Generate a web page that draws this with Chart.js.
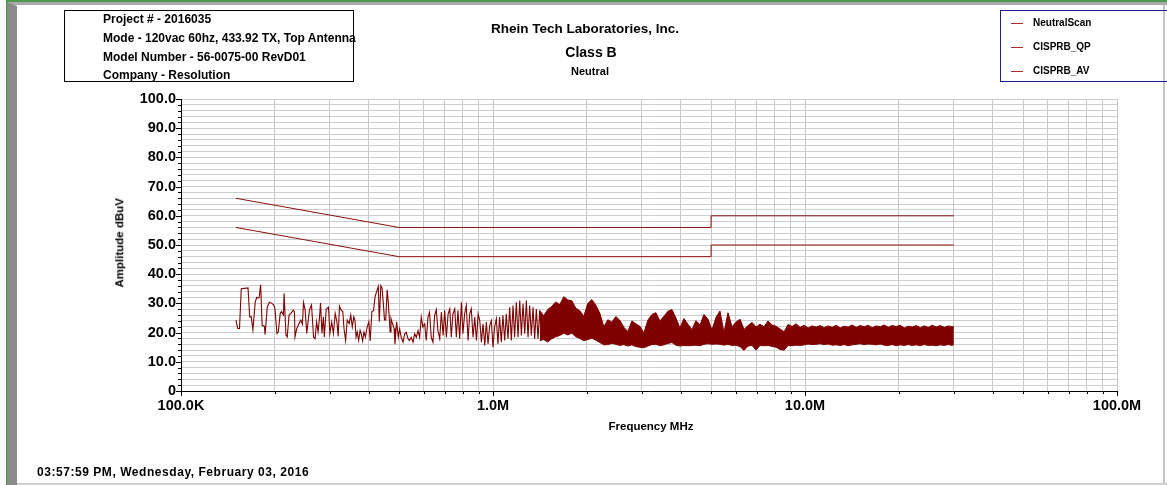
<!DOCTYPE html>
<html>
<head>
<meta charset="utf-8">
<script src="https://cdn.jsdelivr.net/npm/chart.js"></script>
<style>
  html, body { margin:0; padding:0; }
  body { width:1167px; height:485px; position:relative; overflow:hidden; background:#fff;
         font-family:'Liberation Sans', Arial, sans-serif; font-weight:bold; color:#000; }
  .t { position:absolute; white-space:nowrap; }
  canvas { position:absolute; left:0; top:0; }
</style>
</head>
<body>
<script>
// ---------- data ----------
const scanFreq = [
 0.150,0.152,0.154,0.156,0.164,0.166,0.168,0.170,0.173,0.175,0.177,0.178,0.180,0.182,0.185,0.186,
 0.189,0.192,0.195,0.198,0.200,0.203,0.205,0.208,0.210,0.213,0.214,0.217,0.219,0.222,0.225,0.229,
 0.231,0.232,0.235,0.239,0.242,0.245,0.247,0.250,0.253,0.255,0.258,0.262,0.266,0.269,0.272,0.275,
 0.278,0.280,0.283,0.286,0.288,0.292,0.297,0.300,0.304,0.308,0.312,0.316,0.319,0.322,0.326,0.330,
 0.333,0.337,0.341,0.346,0.350,0.354,0.358,0.361,0.364,0.367,0.371,0.375,0.378,0.382,0.386,0.390,
 0.394,0.400,0.404,0.409,0.414,0.419,0.424,0.429,0.432,0.437,0.441,0.445,0.449,0.453,0.458,0.462,
 0.468,0.471,0.476,0.482,0.485,0.491,0.497,0.502,
 0.508,0.515,0.521,0.527,0.534,0.540,0.547,0.554,0.561,0.568,0.575,0.582,0.589,0.596,0.604,0.611,
 0.619,0.626,0.634,0.642,0.650,0.658,0.666,0.675,0.683,0.692,0.700,0.709,0.718,0.727,0.735,0.744,
 0.754,0.763,0.772,0.782,0.792,0.801,0.811,0.821,0.832,0.842,0.852,0.863,0.874,0.885,0.896,0.907,
 0.918,0.929,0.941,0.952,0.964,0.976,0.988,1.000,1.012,1.025,1.037,1.050,1.063,1.076,1.090,1.103,
 1.117,1.131,1.145,1.159,1.173,1.188,1.203,1.218,1.233,1.248,1.264,1.279,1.295,1.311,1.327,1.344,
 1.360,1.377,1.394,1.412,1.429
];
const scanLevel = [
 24.3,21.4,21.4,35.0,35.3,25.4,25.4,21.0,30.6,32.1,31.8,32.0,36.4,22.5,22.2,19.3,
 28.7,30.4,30.1,29.5,28.3,19.7,20.2,26.6,27.2,26.0,33.5,19.1,18.5,26.0,26.6,27.7,
 27.2,18.5,21.4,23.1,24.3,22.9,30.3,27.7,19.7,23.1,27.7,29.5,18.5,17.9,23.7,20.2,
 25.4,30.1,19.7,25.4,18.5,28.0,28.7,19.7,23.7,19.7,26.6,23.7,18.7,29.1,27.7,27.2,
 21.4,17.3,24.3,23.1,26.0,22.0,25.4,24.3,18.5,20.2,17.3,20.8,19.7,17.1,20.2,18.5,
 21.4,23.7,17.1,27.2,27.5,32.4,34.1,35.8,23.7,36.1,35.3,30.1,24.3,24.3,34.7,30.1,
 20.2,24.9,23.1,21.4,16.0,23.7,18.5,21.3,
 18.4,16.7,19.6,20.1,17.9,17.3,18.4,16.7,19.6,18.4,20.7,18.4,25.3,21.9,23.0,17.3,
 25.3,27.0,18.4,16.7,25.9,27.8,20.7,17.9,27.0,19.0,27.6,18.4,26.4,28.1,18.4,26.4,
 28.1,18.4,27.6,17.9,30.4,19.6,26.4,29.3,17.3,26.4,28.1,18.4,25.3,17.3,26.4,24.1,
 16.7,23.0,15.6,23.6,16.1,22.4,24.1,15.0,21.9,24.7,16.1,25.3,16.7,25.9,17.3,26.4,
 17.9,28.7,17.3,29.3,18.4,30.4,18.4,31.0,19.0,29.9,19.6,31.0,18.4,29.3,19.0,28.7,
 17.9,28.1,17.9,27.6,17.3
];
// dense part of the scan: upper and lower edge of the trace band
const bandFreq = [
 1.412,1.454,1.498,1.543,1.589,1.637,1.686,1.737,1.789,1.842,1.898,1.954,2.013,2.074,2.136,2.200,
 2.266,2.334,2.404,2.476,2.550,2.627,2.706,2.787,2.870,2.956,3.045,3.137,3.231,3.328,3.427,3.530,
 3.636,3.745,3.858,3.973,4.092,4.215,4.342,4.472,4.606,4.744,4.887,5.033,5.184,5.340,5.500,5.665,
 5.835,6.010,6.190,6.376,6.567,6.764,6.967,7.176,7.391,7.613,7.841,8.077,8.319,8.569,8.826,9.091,
 9.363,9.644,9.933,10.23,10.54,10.86,11.18,11.51,11.86,12.22,12.58,12.96,13.35,13.75,14.16,14.59,
 15.02,15.48,15.94,16.42,16.91,17.42,17.94,18.48,19.03,19.60,20.19,20.80,21.42,22.07,22.73,23.41,
 24.11,24.84,25.58,26.35,27.14,27.95,28.79,29.66,30.0
];
const bandHigh = [
 27.6,25.8,27.9,29.0,30.5,29.6,32.3,31.2,30.9,28.4,27.5,25.6,30.0,31.3,29.4,26.6,
 22.0,24.4,23.6,25.5,24.2,21.8,20.4,24.0,23.0,22.2,19.9,24.3,26.2,26.8,24.0,25.6,
 27.3,27.9,25.0,21.6,24.8,22.9,21.0,24.1,22.6,26.2,24.6,20.9,25.2,27.4,20.0,26.8,
 22.0,23.6,24.6,21.1,22.4,23.5,21.9,22.9,22.0,24.0,22.6,22.2,21.2,20.3,22.8,22.1,
 23.0,21.8,22.5,21.6,22.3,21.9,22.4,21.7,22.3,21.8,22.5,21.6,22.2,21.9,22.6,21.8,
 22.4,22.0,22.5,21.7,22.3,22.0,22.6,21.8,22.4,22.1,22.5,21.6,22.2,21.9,22.4,21.7,
 22.3,21.8,22.5,21.9,22.4,21.8,22.3,22.0,22.1
];
const bandLow = [
 17.3,17.6,16.8,17.9,18.6,19.0,19.8,19.2,19.8,18.6,18.0,17.2,17.6,18.1,17.4,16.6,
 15.8,15.9,16.3,16.0,15.6,15.9,15.4,15.8,15.2,15.0,14.8,15.4,15.9,16.0,15.5,15.8,
 16.3,16.6,15.7,15.4,15.6,15.5,15.6,15.7,15.5,16.0,16.2,16.0,16.1,16.0,15.7,16.0,
 15.6,15.7,15.2,13.9,15.4,15.6,14.0,15.6,15.5,15.6,15.3,15.0,14.2,14.0,15.6,15.5,
 15.7,15.6,15.8,16.1,15.9,16.0,16.2,15.9,16.1,15.7,15.8,15.6,15.9,15.5,15.8,16.0,
 16.2,15.9,16.1,16.0,15.8,16.1,15.7,15.6,15.9,15.5,15.8,15.6,15.9,15.6,15.8,15.5,
 15.9,15.6,15.7,15.5,15.8,15.6,15.9,15.6,16.1
];
const qpFreq  = [0.15, 0.5, 5, 5, 30];
const qpLevel = [66, 56, 56, 60, 60];
const avFreq  = [0.15, 0.5, 5, 5, 30];
const avLevel = [56, 46, 46, 50, 50];

const xTickValues = [0.1,0.2,0.3,0.4,0.5,0.6,0.7,0.8,0.9,1,2,3,4,5,6,7,8,9,10,20,30,40,50,60,70,80,90,100];
const xMajorValues = [0.1, 1, 10, 100];
const xMajorLabels = ['100.0K', '1.0M', '10.0M', '100.0M'];
const yMajorValues = [0,10,20,30,40,50,60,70,80,90,100];
const yMajorLabels = ['0','10.0','20.0','30.0','40.0','50.0','60.0','70.0','80.0','90.0','100.0'];

const legendNames = ['NeutralScan', 'CISPRB_QP', 'CISPRB_AV'];
const infoLines = ['Project # - 2016035', 'Mode - 120vac 60hz, 433.92 TX, Top Antenna',
                   'Model Number - 56-0075-00 RevD01', 'Company - Resolution'];
</script>

<!-- page frame -->
<div style="position:absolute;left:6px;top:0;width:1161px;height:2px;background:#4f9a4f"></div>
<div style="position:absolute;left:6px;top:2px;width:1161px;height:3px;background:#a9a9a9"></div>
<div style="position:absolute;left:6px;top:0;width:1px;height:485px;background:#3d9a3d"></div>
<div style="position:absolute;left:7px;top:2px;width:10px;height:483px;background:#8a8a8a;clip-path:polygon(0 0,100% 4px,100% 100%,0 100%)"></div>
<div style="position:absolute;left:1163px;top:5px;width:2px;height:480px;background:#c4c4c4"></div>
<div style="position:absolute;left:17px;top:483px;width:1150px;height:2px;background:#cfcfcf"></div>

<canvas id="c" width="1167" height="485"></canvas>

<!-- info box -->
<div style="position:absolute;left:64px;top:10px;width:288px;height:70px;border:1px solid #000"></div>
<div id="info"></div>

<!-- titles -->
<div class="t" style="left:485px;width:200px;text-align:center;top:22px;font-size:13.5px;line-height:13.5px">Rhein Tech Laboratories, Inc.</div>
<div class="t" style="left:491px;width:200px;text-align:center;top:45px;font-size:14px;line-height:14px">Class B</div>
<div class="t" style="left:490px;width:200px;text-align:center;top:65.5px;font-size:11px;line-height:11px">Neutral</div>

<!-- legend -->
<div style="position:absolute;left:1000px;top:10px;width:170px;height:70px;border:1px solid #1a1a8a;border-right:none"></div>
<div id="legend"></div>

<!-- axis titles -->
<div class="t" style="left:70px;width:100px;text-align:center;top:237px;font-size:11.5px;line-height:11.5px;transform:rotate(-90deg);transform-origin:50% 50%">Amplitude dBuV</div>
<div class="t" style="left:551px;width:200px;text-align:center;top:421px;font-size:11.5px;line-height:11.5px">Frequency MHz</div>
<div class="t" style="left:37px;top:466px;font-size:12px;line-height:12px;letter-spacing:0.55px">03:57:59 PM, Wednesday, February 03, 2016</div>

<script>
// info text
const infoY = [19, 38, 57, 75];
document.getElementById('info').innerHTML = infoLines.map((s,i) =>
  `<div class="t" style="left:103px;top:${infoY[i]-6}px;font-size:12px;line-height:12px">${s}</div>`).join('');
// legend
const legY = [23, 47, 71];
document.getElementById('legend').innerHTML = legendNames.map((s,i) =>
  `<div style="position:absolute;left:1011px;top:${legY[i]}px;width:12px;height:1px;background:#b02828"></div>` +
  `<div class="t" style="left:1033px;top:${legY[i]-5}px;font-size:10px;line-height:10px">${s}</div>`).join('');

const pts = (xs, ys) => xs.map((x, i) => ({x: x, y: ys[i]}));
const RED = '#800000';

const tickPlugin = {
  id: 'tickMarks',
  afterDraw(chart) {
    const ctx = chart.ctx, xs = chart.scales.x, ys = chart.scales.y;
    const ca = chart.chartArea;
    ctx.save();
    ctx.strokeStyle = '#000';
    ctx.lineWidth = 1;
    ctx.beginPath();
    for (let v = 0; v <= 100; v += 2) {
      const p = Math.round(ys.getPixelForValue(v)) + 0.5;
      const len = (v % 10 === 0) ? 5 : 3;
      ctx.moveTo(ca.left - len, p); ctx.lineTo(ca.left, p);
    }
    xTickValues.forEach(v => {
      const p = Math.round(xs.getPixelForValue(v)) + 0.5;
      const len = xMajorValues.includes(v) ? 5 : 3;
      ctx.moveTo(p, ca.bottom); ctx.lineTo(p, ca.bottom + len);
    });
    ctx.stroke();
    ctx.restore();
  }
};

Chart.defaults.font.family = "'Liberation Sans', Arial, sans-serif";
Chart.defaults.font.weight = 'bold';
Chart.defaults.color = '#000';

new Chart(document.getElementById('c'), {
  type: 'line',
  data: {
    datasets: [
      { label: 'NeutralScan', data: pts(scanFreq, scanLevel), borderColor: RED, borderWidth: 1.1, pointRadius: 0, fill: false, tension: 0 },
      { label: 'bandHigh', data: pts(bandFreq, bandHigh), borderColor: RED, borderWidth: 1, pointRadius: 0, fill: false, tension: 0 },
      { label: 'bandLow', data: pts(bandFreq, bandLow), borderColor: RED, borderWidth: 1, pointRadius: 0, fill: '-1', backgroundColor: RED, tension: 0 },
      { label: 'CISPRB_QP', data: pts(qpFreq, qpLevel), borderColor: '#8a1010', borderWidth: 1, pointRadius: 0, fill: false, tension: 0 },
      { label: 'CISPRB_AV', data: pts(avFreq, avLevel), borderColor: '#8a1010', borderWidth: 1, pointRadius: 0, fill: false, tension: 0 }
    ]
  },
  options: {
    responsive: false,
    animation: false,
    devicePixelRatio: 1,
    layout: { padding: { left: 0, top: 99, right: 50, bottom: 0 } },
    plugins: { legend: { display: false }, tooltip: { enabled: false }, title: { display: false } },
    scales: {
      x: {
        type: 'logarithmic', min: 0.1, max: 100,
        afterBuildTicks: s => { s.ticks = xTickValues.map(v => ({ value: v })); },
        afterFit: s => { s.height = 94; },
        ticks: {
          autoSkip: false, maxRotation: 0, minRotation: 0, padding: 6,
          font: { size: 14.5, weight: 'bold' },
          callback: v => { const i = xMajorValues.indexOf(v); return i >= 0 ? xMajorLabels[i] : ''; }
        },
        grid: { color: '#c8c8c8', lineWidth: 1, drawTicks: false },
        border: { display: true, color: '#000', width: 1 }
      },
      y: {
        type: 'linear', min: 0, max: 100,
        afterFit: s => { s.width = 181; },
        ticks: {
          stepSize: 2, autoSkip: false, padding: 5,
          font: { size: 14.5, weight: 'bold' },
          callback: v => { const i = yMajorValues.indexOf(v); return i >= 0 ? yMajorLabels[i] : ''; }
        },
        grid: { color: '#cdcdcd', lineWidth: 1, drawTicks: false },
        border: { display: true, color: '#000', width: 1 }
      }
    }
  },
  plugins: [tickPlugin]
});
</script>
</body>
</html>
